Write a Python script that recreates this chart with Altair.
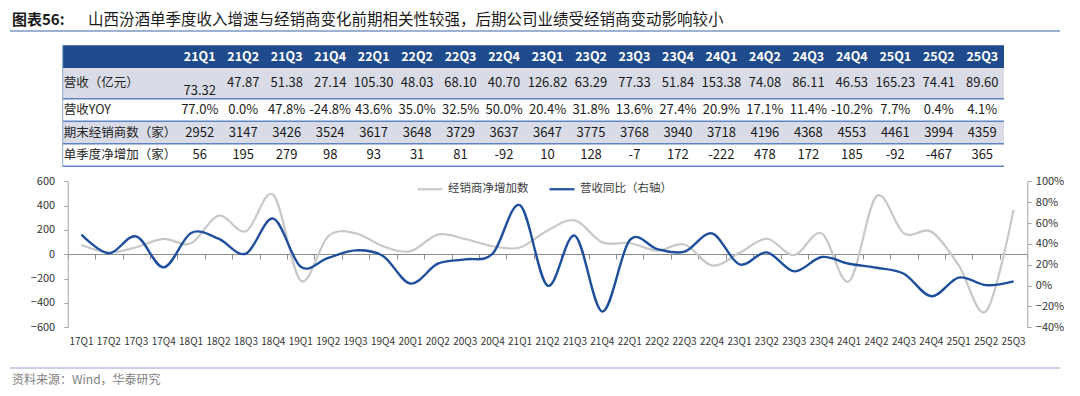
import altair as alt
import pandas as pd

# ---------------- data ----------------
quarters = ['17Q1', '17Q2', '17Q3', '17Q4', '18Q1', '18Q2', '18Q3', '18Q4',
            '19Q1', '19Q2', '19Q3', '19Q4', '20Q1', '20Q2', '20Q3', '20Q4',
            '21Q1', '21Q2', '21Q3', '21Q4', '22Q1', '22Q2', '22Q3', '22Q4',
            '23Q1', '23Q2', '23Q3', '23Q4', '24Q1', '24Q2', '24Q3', '24Q4',
            '25Q1', '25Q2', '25Q3']
table_quarters = quarters[16:]

revenue = [73.32, 47.87, 51.38, 27.14, 105.30, 48.03, 68.10, 40.70, 126.82,
           63.29, 77.33, 51.84, 153.38, 74.08, 86.11, 46.53, 165.23, 74.41, 89.60]
revenue_yoy = [77.0, 0.0, 47.8, -24.8, 43.6, 35.0, 32.5, 50.0, 20.4, 31.8,
               13.6, 27.4, 20.9, 17.1, 11.4, -10.2, 7.7, 0.4, 4.1]
dealers_end = [2952, 3147, 3426, 3524, 3617, 3648, 3729, 3637, 3647, 3775,
               3768, 3940, 3718, 4196, 4368, 4553, 4461, 3994, 4359]
dealers_net = [56, 195, 279, 98, 93, 31, 81, -92, 10, 128, -7, 172, -222,
               478, 172, 185, -92, -467, 365]

# chart-only history (17Q1-20Q4)
net_add_early = [77, 16, 58, 126, 90, 318, 189, 488, -216, 148, 173, 66,
                 25, 162, 126, 66]
yoy_early = [48.8, 30.9, 47.2, 17.5, 50.4, 45.0, 30.6, 64.2, 18.0, 26.5,
             33.8, 28.4, 1.9, 21.0, 25.2, 30.6]

row_labels = ['营收（亿元）', '营收YOY', '期末经销商数（家）', '单季度净增加（家）']
series_names = ['经销商净增加数', '营收同比（右轴）']
title_head = '图表56:'
title_text = '山西汾酒单季度收入增速与经销商变化前期相关性较强，后期公司业绩受经销商变动影响较小'
source_text = '资料来源：Wind，华泰研究'

# ---------------- styles / layout ----------------
W, H = 1064, 380
FONT = 'Noto Sans CJK SC'
BLUE = '#1f4e9c'
GRAY = '#c8c8c8'
HDR = '#1f4a8c'
ROWBG = '#d9dce6'
ROWLINE = '#5f84c4'
AXC = '#a6a6a6'

TBL_L, TBL_DATA_L, TBL_R = 54.7, 170, 996
HDR_Y = [37.3, 60]
ROW1_Y = [60, 90.7]
ROWS_Y = [90.7, 158.3]
PLOT_L, PLOT_R, PLOT_T, PLOT_B = 59.7, 1019.3, 173.3, 319.3

# ---------------- table ----------------
table_rows = [
    [f'{v:.2f}' for v in revenue],
    [f'{v:.1f}%' for v in revenue_yoy],
    [str(v) for v in dealers_end],
    [str(v) for v in dealers_net],
]
tbl = pd.DataFrame([
    {'row': row_labels[r], 'col': q, 'txt': table_rows[r][i], 'first': i == 0}
    for r in range(4) for i, q in enumerate(table_quarters)
])
labels_df = pd.DataFrame({'row': row_labels})
hdr_df = pd.DataFrame({'col': table_quarters, 'row': ['h'] * len(table_quarters)})

xs_tbl = alt.Scale(type='band', domain=table_quarters, range=[TBL_DATA_L, TBL_R],
                   paddingInner=0, paddingOuter=0)
ys_hdr = alt.Scale(type='band', domain=['h'], range=HDR_Y, paddingInner=0, paddingOuter=0)
ys_r1 = alt.Scale(type='band', domain=row_labels[:1], range=ROW1_Y, paddingInner=0, paddingOuter=0)
ys_rs = alt.Scale(type='band', domain=row_labels[1:], range=ROWS_Y, paddingInner=0, paddingOuter=0)

layers = []

# header
layers.append(alt.Chart(hdr_df.head(1)).mark_rect(color=HDR).encode(
    x=alt.value(TBL_L), x2=alt.value(TBL_R),
    y=alt.Y('row:N', scale=ys_hdr, axis=None)))
layers.append(alt.Chart(hdr_df).mark_text(color='white', fontWeight='bold', fontSize=12.5,
                                          font=FONT).encode(
    x=alt.X('col:N', scale=xs_tbl, axis=None, bandPosition=0.5),
    y=alt.Y('row:N', scale=ys_hdr, axis=None, bandPosition=0.5),
    text='col:N'))


def body_block(rows, yscale, shaded):
    out = []
    sub_lab = labels_df[labels_df.row.isin(rows)]
    shade = sub_lab[sub_lab.row.isin(shaded)]
    if len(shade):
        out.append(alt.Chart(shade).mark_rect(color=ROWBG).encode(
            x=alt.value(TBL_L), x2=alt.value(TBL_R),
            y=alt.Y('row:N', scale=yscale, axis=None)))
    out.append(alt.Chart(sub_lab).mark_rule(color=ROWLINE, strokeWidth=1.5).encode(
        x=alt.value(TBL_L), x2=alt.value(TBL_R),
        y=alt.Y('row:N', scale=yscale, axis=None, bandPosition=1)))
    out.append(alt.Chart(sub_lab).mark_text(align='left', fontSize=12.5, font=FONT,
                                            color='#262626').encode(
        x=alt.value(TBL_L + 1),
        y=alt.Y('row:N', scale=yscale, axis=None, bandPosition=0.5),
        text='row:N'))
    return out


layers += body_block(row_labels[:1], ys_r1, row_labels[:1])
layers += body_block(row_labels[1:], ys_rs, [row_labels[2]])

r1 = tbl[tbl.row == row_labels[0]]
layers.append(alt.Chart(r1[~r1['first']]).mark_text(fontSize=13, font=FONT, color='#1a1a1a').encode(
    x=alt.X('col:N', scale=xs_tbl, axis=None, bandPosition=0.5),
    y=alt.Y('row:N', scale=ys_r1, axis=None, bandPosition=0.5),
    text='txt:N'))
layers.append(alt.Chart(r1[r1['first']]).mark_text(fontSize=13, font=FONT, color='#1a1a1a', dy=8).encode(
    x=alt.X('col:N', scale=xs_tbl, axis=None, bandPosition=0.5),
    y=alt.Y('row:N', scale=ys_r1, axis=None, bandPosition=0.5),
    text='txt:N'))
layers.append(alt.Chart(tbl[tbl.row != row_labels[0]]).mark_text(fontSize=13, font=FONT, color='#1a1a1a').encode(
    x=alt.X('col:N', scale=xs_tbl, axis=None, bandPosition=0.5),
    y=alt.Y('row:N', scale=ys_rs, axis=None, bandPosition=0.5),
    text='txt:N'))
# left border of table
layers.append(alt.Chart(labels_df.head(1)).mark_rule(color='#8fa8d0', strokeWidth=1).encode(
    x=alt.value(TBL_L), y=alt.value(HDR_Y[0]), y2=alt.value(ROWS_Y[1])))

# ---------------- line chart ----------------
line_df = pd.DataFrame({
    'quarter': quarters,
    'net': net_add_early + dealers_net,
    'yoy': yoy_early + revenue_yoy,
})

xs_line = alt.Scale(type='band', domain=quarters, range=[PLOT_L, PLOT_R],
                    paddingInner=0, paddingOuter=0)
color_scale = alt.Scale(domain=series_names, range=[GRAY, BLUE])

gray_line = alt.Chart(line_df).transform_calculate(
    series=f'"{series_names[0]}"'
).mark_line(interpolate='cardinal', tension=0, strokeWidth=2.2).encode(
    x=alt.X('quarter:N', scale=xs_line, bandPosition=0.5, title=None,
            axis=alt.Axis(orient='bottom', offset=-(H - 246), labels=False, domain=True,
                          domainColor='#8c8c8c', ticks=True, tickBand='extent', tickSize=5,
                          tickColor='#8c8c8c', grid=False)),
    y=alt.Y('net:Q', scale=alt.Scale(domain=[-600, 600], range=[PLOT_B, PLOT_T], nice=False, zero=False),
            title=None,
            axis=alt.Axis(orient='left', offset=-PLOT_L, values=list(range(-600, 601, 200)),
                          format='d', grid=False, domainColor=AXC, tickColor=AXC, tickSize=4,
                          labelPadding=9, labelFontSize=11, labelColor='#333333', labelFont=FONT)),
    color=alt.Color('series:N', scale=color_scale,
                    legend=alt.Legend(orient='none', legendX=408, legendY=167, direction='horizontal',
                                      title=None, symbolType='stroke', symbolSize=625,
                                      symbolStrokeWidth=2.2, labelFontSize=11.5, labelFont=FONT,
                                      labelColor='#404040', columnPadding=16, labelOffset=4,
                                      padding=0)),
)

blue_line = alt.Chart(line_df).transform_calculate(
    series=f'"{series_names[1]}"', yoyf='datum.yoy / 100'
).mark_line(interpolate='cardinal', tension=0, strokeWidth=2.4).encode(
    x=alt.X('quarter:N', scale=xs_line, bandPosition=0.5, title=None,
            axis=alt.Axis(orient='bottom', offset=-52, labels=True, domain=False, ticks=False,
                          labelPadding=0, labelFontSize=10, labelColor='#333333', labelFont=FONT,
                          labelAngle=0, labelOverlap=False, grid=False)),
    y=alt.Y('yoyf:Q', scale=alt.Scale(domain=[-0.4, 1.0], range=[PLOT_B, PLOT_T], nice=False, zero=False),
            title=None,
            axis=alt.Axis(orient='right', offset=PLOT_R - W, values=[-0.4, -0.2, 0, 0.2, 0.4, 0.6, 0.8, 1.0],
                          format='.0%', grid=False, domainColor=AXC, tickColor=AXC, tickSize=4,
                          labelPadding=4, labelFontSize=11, labelColor='#333333', labelFont=FONT)),
    color=alt.Color('series:N', scale=color_scale),
)
layers += [gray_line, blue_line]

# ---------------- title & footer ----------------
one = pd.DataFrame({'k': [0]})
layers.append(alt.Chart(one).mark_text(text=title_head, align='left', baseline='middle', fontSize=15,
                                       fontWeight='bold', font=FONT, color='#1a1a1a').encode(
    x=alt.value(4), y=alt.value(11.5)))
layers.append(alt.Chart(one).mark_text(text=title_text, align='left', baseline='middle', fontSize=15.5,
                                       font=FONT, color='#1a1a1a').encode(
    x=alt.value(80), y=alt.value(11.5)))
layers.append(alt.Chart(one).mark_rule(color='#9db1d3', strokeWidth=2).encode(
    x=alt.value(2), x2=alt.value(1052), y=alt.value(23)))
layers.append(alt.Chart(one).mark_rule(color='#b4c2d8', strokeWidth=1.5).encode(
    x=alt.value(2), x2=alt.value(1052), y=alt.value(360)))
layers.append(alt.Chart(one).mark_text(text=source_text, align='left', baseline='middle', fontSize=12,
                                       font=FONT, color='#7f7f7f').encode(
    x=alt.value(4), y=alt.value(372)))

chart = alt.layer(*layers).resolve_scale(x='independent', y='independent').properties(
    width=W, height=H, autosize=alt.AutoSizeParams(type='none'), padding=0,
    background='white'
).configure_view(strokeWidth=0)

chart.save('out.html', embed_options={'renderer': 'svg', 'actions': False})
